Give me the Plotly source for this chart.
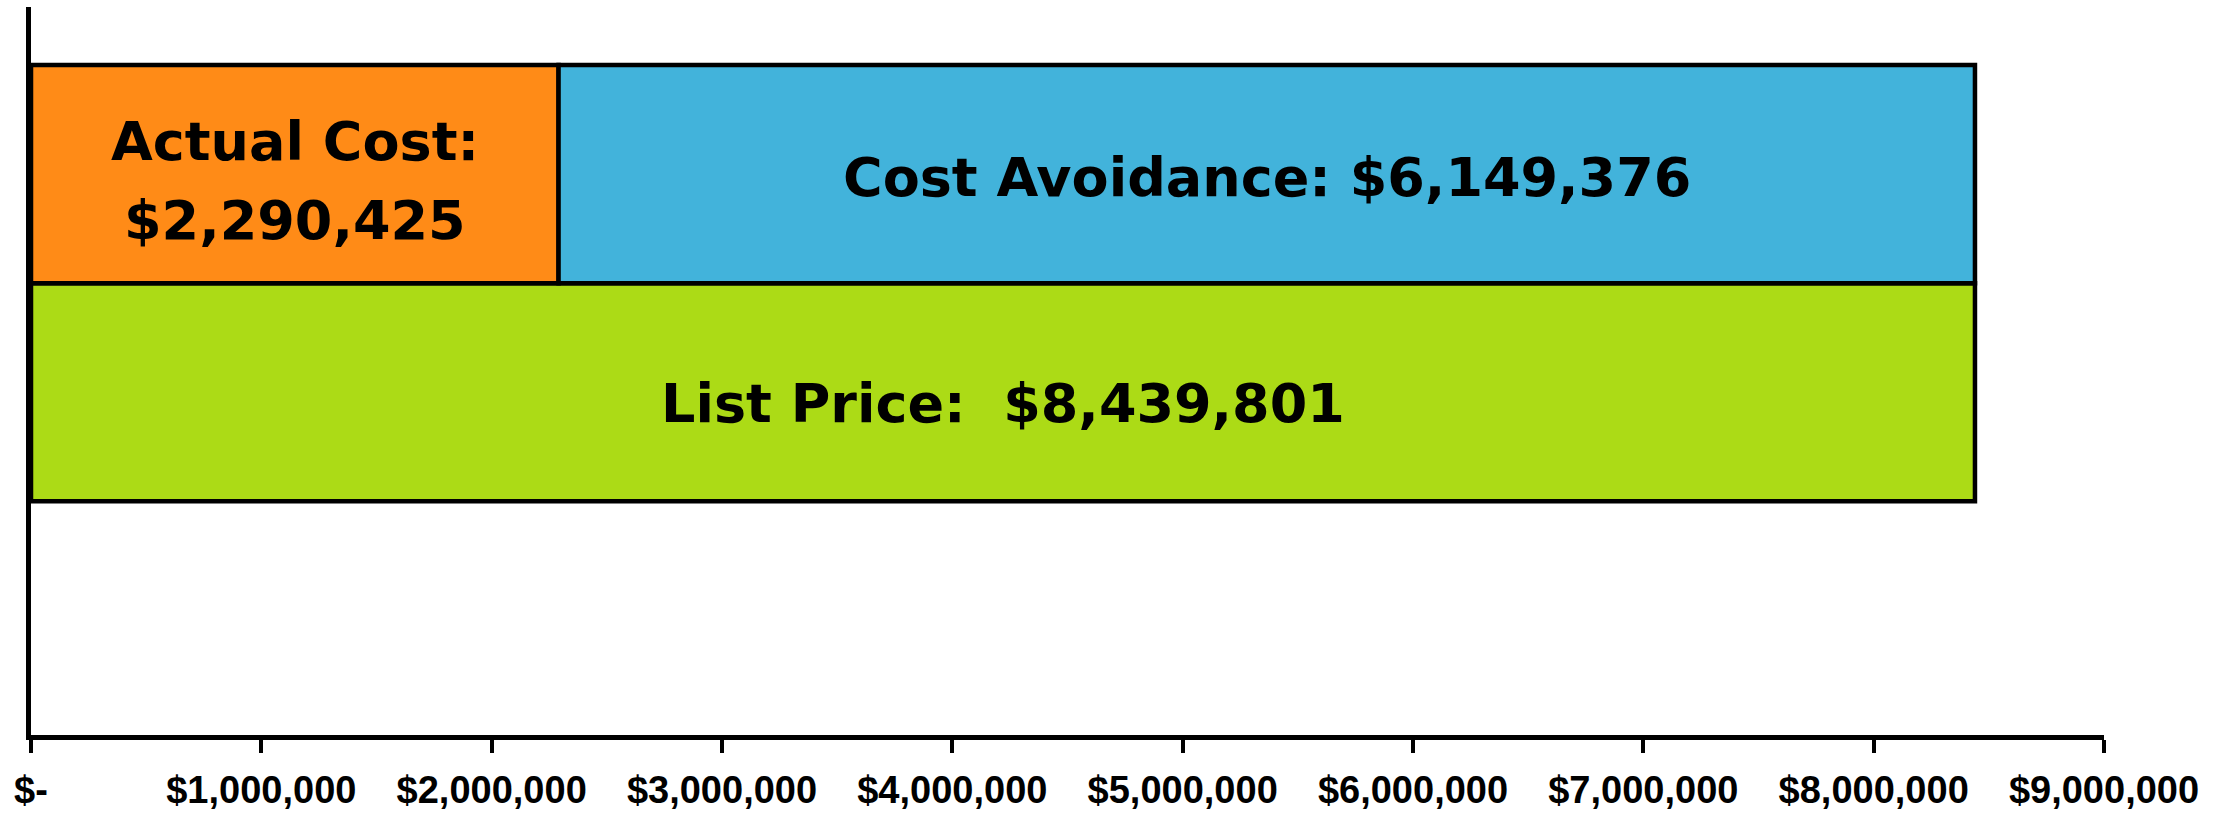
import plotly.graph_objects as go

# Data
rows = [0, 1]  # 0 = List Price row (bottom), 1 = Actual/Avoidance row (top)
actual_cost = 2290425
cost_avoidance = 6149376
list_price = 8439801

label_actual = ["Actual Cost:", "$2,290,425"]
label_avoid = "Cost Avoidance: $6,149,376"
label_list = "List Price:  $8,439,801"

tick_vals = [0, 1000000, 2000000, 3000000, 4000000, 5000000, 6000000, 7000000, 8000000, 9000000]
tick_text = ["$-", "$1,000,000", "$2,000,000", "$3,000,000", "$4,000,000", "$5,000,000",
             "$6,000,000", "$7,000,000", "$8,000,000", "$9,000,000"]

label_font = dict(family="DejaVu Sans", size=54, color="black", weight="bold")
line = dict(color="black", width=4.5)

fig = go.Figure()
fig.add_trace(go.Bar(
    y=[rows[0]], x=[list_price], orientation="h", width=1,
    marker=dict(color="#ACDB16", line=line), hoverinfo="skip"))
fig.add_trace(go.Bar(
    y=[rows[1]], x=[actual_cost], orientation="h", width=1,
    marker=dict(color="#FF8B17", line=line), hoverinfo="skip"))
fig.add_trace(go.Bar(
    y=[rows[1]], x=[cost_avoidance], orientation="h", width=1, base=[actual_cost],
    marker=dict(color="#42B3DB", line=line), hoverinfo="skip"))

# Labels centred on each bar segment
ann = [
    dict(x=actual_cost / 2, y=rows[1], text=label_actual[0], yshift=33),
    dict(x=actual_cost / 2, y=rows[1], text=label_actual[1], yshift=-46),
    dict(x=actual_cost + cost_avoidance / 2, y=rows[1], text=label_avoid, yshift=-3),
    dict(x=list_price / 2, y=rows[0], text=label_list, yshift=-11),
]
for a in ann:
    fig.add_annotation(**a, xref="x", yref="y", showarrow=False, font=label_font,
                       xanchor="center", yanchor="middle")

fig.update_layout(
    width=2232, height=818,
    margin=dict(l=31, r=128, t=7, b=79),
    paper_bgcolor="white", plot_bgcolor="white",
    showlegend=False, barmode="overlay",
)
fig.update_xaxes(
    range=[0, 9000000], tickvals=tick_vals, ticktext=tick_text,
    showline=True, linecolor="black", linewidth=5,
    ticks="outside", ticklen=13, tickwidth=4, tickcolor="black",
    showgrid=False, zeroline=False, ticklabelstandoff=4,
    tickfont=dict(family="Liberation Sans Narrow, Liberation Sans", size=38, color="black", weight="bold"),
)
fig.update_yaxes(
    range=[-1.571, 1.766], showline=True, linecolor="black", linewidth=5,
    showticklabels=False, ticks="", showgrid=False, zeroline=False,
)

fig.write_html("out.html")
